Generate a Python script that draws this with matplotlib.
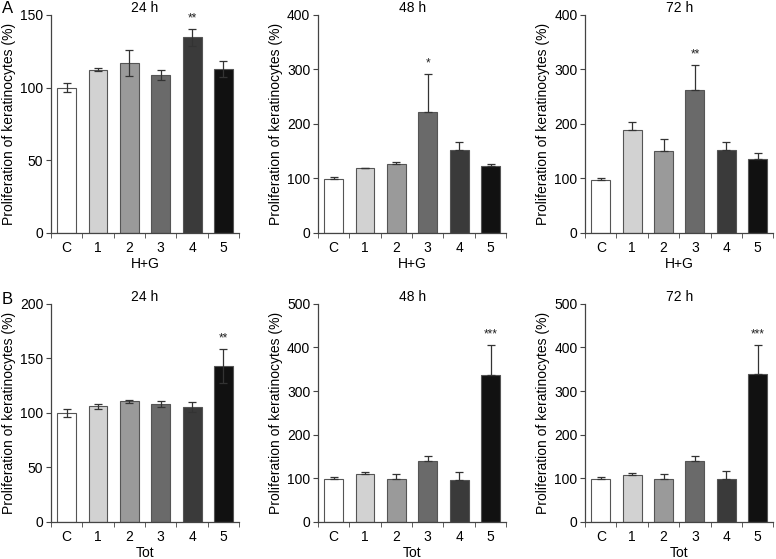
import matplotlib
matplotlib.use("Agg")
import matplotlib.pyplot as plt
import numpy as np

plt.rcParams['font.family'] = ['Liberation Sans', 'DejaVu Sans']

groups = ["C", "1", "2", "3", "4", "5"]
colors = ["#ffffff", "#d2d2d2", "#9a9a9a", "#6a6a6a", "#3a3a3a", "#111111"]

# row A: H+G
hg_24 = [100, 112.4, 116.8, 108.5, 134.6, 112.9]
hg_24_err = [3, 1.2, 9, 3.5, 6, 5.4]
hg_48 = [99, 118.5, 126.4, 222.9, 152, 122]
hg_48_err = [3.7, 1.5, 3.7, 69, 14.6, 5.5]
hg_72 = [97.7, 188.7, 150.2, 262.6, 152, 136.2]
hg_72_err = [3, 15.3, 21.4, 45.2, 14.7, 9.8]

# row B: Tot
tot_24 = [99.8, 105.9, 110.5, 107.8, 105, 143]
tot_24_err = [3.3, 2.3, 1.5, 2.9, 4.5, 15.5]
tot_48 = [98.9, 109.6, 98.2, 139.3, 96.7, 336.4]
tot_48_err = [3, 4.6, 11.4, 12.2, 18.3, 69.3]
tot_72 = [99, 108, 97.4, 139.3, 97.4, 338]
tot_72_err = [3, 4.6, 13, 12.2, 19, 67.7]

panels = [
    ("24 h", "H+G", hg_24, hg_24_err, True, 150, [0, 50, 100, 150], {4: "**"}),
    ("48 h", "H+G", hg_48, hg_48_err, False, 400, [0, 100, 200, 300, 400], {3: "*"}),
    ("72 h", "H+G", hg_72, hg_72_err, False, 400, [0, 100, 200, 300, 400], {3: "**"}),
    ("24 h", "Tot", tot_24, tot_24_err, True, 200, [0, 50, 100, 150, 200], {5: "**"}),
    ("48 h", "Tot", tot_48, tot_48_err, False, 500, [0, 100, 200, 300, 400, 500], {5: "***"}),
    ("72 h", "Tot", tot_72, tot_72_err, False, 500, [0, 100, 200, 300, 400, 500], {5: "***"}),
]

fig = plt.figure(figsize=(7.76, 5.59), dpi=100)
lefts = [0.0657, 0.4098, 0.754]
bottoms = [0.5832, 0.0665]
w, h = 0.2425, 0.39

x = np.arange(len(groups))
for i, (title, xlab, vals, errs, both, ymax, yt, stars) in enumerate(panels):
    ax = fig.add_axes([lefts[i % 3], bottoms[i // 3], w, h])
    ax.bar(x, vals, width=0.6, color=colors, edgecolor="#555555", linewidth=0.8, zorder=2)
    if both:
        yerr = errs
    else:
        yerr = [np.zeros(len(errs)), errs]
    ax.errorbar(x, vals, yerr=yerr, fmt="none", ecolor="#333333", elinewidth=0.9,
                capsize=2.6, capthick=0.9, zorder=3)
    for k, s in stars.items():
        ax.text(x[k], vals[k] + errs[k] + ymax * 0.02, s, ha="center", va="bottom",
                fontsize=8.5, color="#222222")
    ax.set_xlim(-0.5, 5.5)
    ax.set_ylim(0, ymax)
    ax.set_yticks(yt)
    ax.set_xticks(x)
    ax.set_xticklabels(groups)
    ax.set_xticks(np.arange(-0.5, 6, 1), minor=True)
    ax.tick_params(axis="x", which="major", length=0, labelsize=10, pad=6)
    ax.tick_params(axis="x", which="minor", length=3.5, direction="out", color="#444444")
    ax.tick_params(axis="y", length=3.5, pad=2, labelsize=10, color="#444444")
    for sp in ["top", "right"]:
        ax.spines[sp].set_visible(False)
    for sp in ["left", "bottom"]:
        ax.spines[sp].set_color("#444444")
        ax.spines[sp].set_linewidth(0.9)
    ax.set_title(title, fontsize=10, pad=1)
    ax.set_xlabel(xlab, fontsize=10, labelpad=1)
    ax.set_ylabel("Proliferation of keratinocytes (%)", fontsize=10, labelpad=3)

fig.text(0.002, 0.985, "A", fontsize=12, va="center")
fig.text(0.002, 0.465, "B", fontsize=12, va="center")

fig.savefig("out.png", dpi=100)
